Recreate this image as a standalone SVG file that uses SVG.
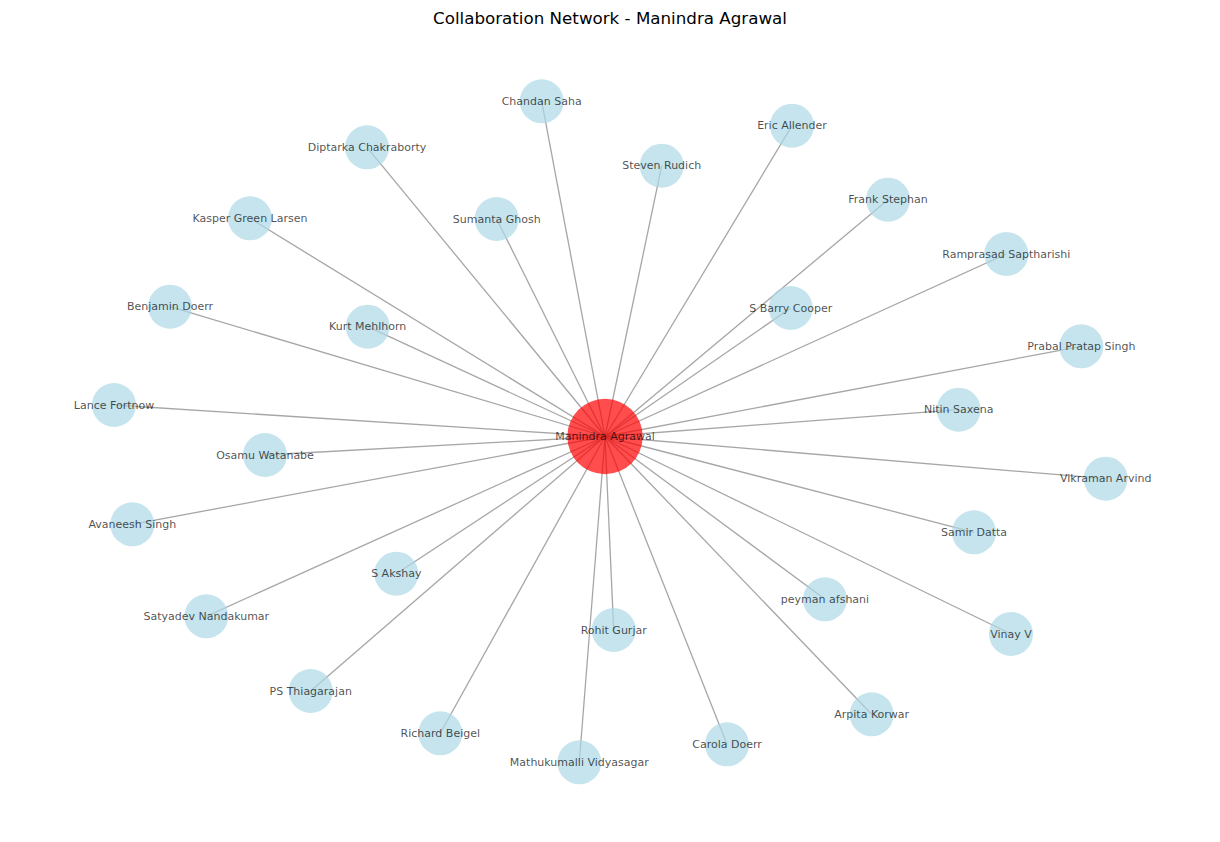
<svg xmlns="http://www.w3.org/2000/svg" width="1220" height="842" viewBox="0 0 1220 842">
<style>
.bg{fill:#ffffff}
.edge{stroke:#808080;stroke-opacity:0.7;stroke-width:1.3;fill:none}
.node circle{fill:#add8e6;fill-opacity:0.7}
.center circle{fill:#ff0000;fill-opacity:0.7}
.lbl{font-family:"DejaVu Sans",sans-serif;font-size:11px;fill:#000000;fill-opacity:0.7;text-anchor:middle;dominant-baseline:central}
.title{font-family:"DejaVu Sans",sans-serif;font-size:16.7px;fill:#000000;text-anchor:middle}
</style>
<rect class="bg" x="0" y="0" width="1220" height="842"/>
<text class="title" x="610" y="24">Collaboration Network - Manindra Agrawal</text>
<g id="connectors">
<line class="edge" x1="605" y1="436.5" x2="541.7" y2="101.3"/>
<line class="edge" x1="605" y1="436.5" x2="367" y2="147.3"/>
<line class="edge" x1="605" y1="436.5" x2="661.7" y2="165.7"/>
<line class="edge" x1="605" y1="436.5" x2="496.7" y2="219"/>
<line class="edge" x1="605" y1="436.5" x2="792" y2="125.7"/>
<line class="edge" x1="605" y1="436.5" x2="888" y2="199.7"/>
<line class="edge" x1="605" y1="436.5" x2="1006.3" y2="254"/>
<line class="edge" x1="605" y1="436.5" x2="790.7" y2="308"/>
<line class="edge" x1="605" y1="436.5" x2="1081.3" y2="346.3"/>
<line class="edge" x1="605" y1="436.5" x2="958.7" y2="409.7"/>
<line class="edge" x1="605" y1="436.5" x2="1105.7" y2="478.7"/>
<line class="edge" x1="605" y1="436.5" x2="974" y2="532.3"/>
<line class="edge" x1="605" y1="436.5" x2="1011" y2="634"/>
<line class="edge" x1="605" y1="436.5" x2="250" y2="218.3"/>
<line class="edge" x1="605" y1="436.5" x2="170" y2="306.7"/>
<line class="edge" x1="605" y1="436.5" x2="367.7" y2="326.7"/>
<line class="edge" x1="605" y1="436.5" x2="114" y2="405"/>
<line class="edge" x1="605" y1="436.5" x2="265" y2="455"/>
<line class="edge" x1="605" y1="436.5" x2="132.3" y2="524.3"/>
<line class="edge" x1="605" y1="436.5" x2="396.3" y2="573.7"/>
<line class="edge" x1="605" y1="436.5" x2="206.3" y2="616.3"/>
<line class="edge" x1="605" y1="436.5" x2="310.7" y2="691"/>
<line class="edge" x1="605" y1="436.5" x2="440.3" y2="733.3"/>
<line class="edge" x1="605" y1="436.5" x2="825" y2="599.3"/>
<line class="edge" x1="605" y1="436.5" x2="613.7" y2="630"/>
<line class="edge" x1="605" y1="436.5" x2="871.7" y2="714.3"/>
<line class="edge" x1="605" y1="436.5" x2="727" y2="744.3"/>
<line class="edge" x1="605" y1="436.5" x2="579.3" y2="762.3"/>
</g>
<g id="n-chandan" class="node"><circle cx="541.7" cy="101.3" r="22"/><text class="lbl" x="541.7" y="101.3">Chandan Saha</text></g>
<g id="n-diptarka" class="node"><circle cx="367" cy="147.3" r="22"/><text class="lbl" x="367" y="147.3">Diptarka Chakraborty</text></g>
<g id="n-steven" class="node"><circle cx="661.7" cy="165.7" r="22"/><text class="lbl" x="661.7" y="165.7">Steven Rudich</text></g>
<g id="n-sumanta" class="node"><circle cx="496.7" cy="219" r="22"/><text class="lbl" x="496.7" y="219">Sumanta Ghosh</text></g>
<g id="n-eric" class="node"><circle cx="792" cy="125.7" r="22"/><text class="lbl" x="792" y="125.7">Eric Allender</text></g>
<g id="n-frank" class="node"><circle cx="888" cy="199.7" r="22"/><text class="lbl" x="888" y="199.7">Frank Stephan</text></g>
<g id="n-ramprasad" class="node"><circle cx="1006.3" cy="254" r="22"/><text class="lbl" x="1006.3" y="254">Ramprasad Saptharishi</text></g>
<g id="n-barry" class="node"><circle cx="790.7" cy="308" r="22"/><text class="lbl" x="790.7" y="308">S Barry Cooper</text></g>
<g id="n-prabal" class="node"><circle cx="1081.3" cy="346.3" r="22"/><text class="lbl" x="1081.3" y="346.3">Prabal Pratap Singh</text></g>
<g id="n-nitin" class="node"><circle cx="958.7" cy="409.7" r="22"/><text class="lbl" x="958.7" y="409.7">Nitin Saxena</text></g>
<g id="n-vikraman" class="node"><circle cx="1105.7" cy="478.7" r="22"/><text class="lbl" x="1105.7" y="478.7">Vikraman Arvind</text></g>
<g id="n-samir" class="node"><circle cx="974" cy="532.3" r="22"/><text class="lbl" x="974" y="532.3">Samir Datta</text></g>
<g id="n-vinay" class="node"><circle cx="1011" cy="634" r="22"/><text class="lbl" x="1011" y="634">Vinay V</text></g>
<g id="n-kasper" class="node"><circle cx="250" cy="218.3" r="22"/><text class="lbl" x="250" y="218.3">Kasper Green Larsen</text></g>
<g id="n-benjamin" class="node"><circle cx="170" cy="306.7" r="22"/><text class="lbl" x="170" y="306.7">Benjamin Doerr</text></g>
<g id="n-kurt" class="node"><circle cx="367.7" cy="326.7" r="22"/><text class="lbl" x="367.7" y="326.7">Kurt Mehlhorn</text></g>
<g id="n-lance" class="node"><circle cx="114" cy="405" r="22"/><text class="lbl" x="114" y="405">Lance Fortnow</text></g>
<g id="n-osamu" class="node"><circle cx="265" cy="455" r="22"/><text class="lbl" x="265" y="455">Osamu Watanabe</text></g>
<g id="n-avaneesh" class="node"><circle cx="132.3" cy="524.3" r="22"/><text class="lbl" x="132.3" y="524.3">Avaneesh Singh</text></g>
<g id="n-akshay" class="node"><circle cx="396.3" cy="573.7" r="22"/><text class="lbl" x="396.3" y="573.7">S Akshay</text></g>
<g id="n-satyadev" class="node"><circle cx="206.3" cy="616.3" r="22"/><text class="lbl" x="206.3" y="616.3">Satyadev Nandakumar</text></g>
<g id="n-ps" class="node"><circle cx="310.7" cy="691" r="22"/><text class="lbl" x="310.7" y="691">PS Thiagarajan</text></g>
<g id="n-richard" class="node"><circle cx="440.3" cy="733.3" r="22"/><text class="lbl" x="440.3" y="733.3">Richard Beigel</text></g>
<g id="n-peyman" class="node"><circle cx="825" cy="599.3" r="22"/><text class="lbl" x="825" y="599.3">peyman afshani</text></g>
<g id="n-rohit" class="node"><circle cx="613.7" cy="630" r="22"/><text class="lbl" x="613.7" y="630">Rohit Gurjar</text></g>
<g id="n-arpita" class="node"><circle cx="871.7" cy="714.3" r="22"/><text class="lbl" x="871.7" y="714.3">Arpita Korwar</text></g>
<g id="n-carola" class="node"><circle cx="727" cy="744.3" r="22"/><text class="lbl" x="727" y="744.3">Carola Doerr</text></g>
<g id="n-mathukumalli" class="node"><circle cx="579.3" cy="762.3" r="22"/><text class="lbl" x="579.3" y="762.3">Mathukumalli Vidyasagar</text></g>
<g id="n-manindra" class="center"><circle cx="605" cy="436.5" r="37.7"/><text class="lbl" x="605" y="436.5">Manindra Agrawal</text></g>
</svg>
